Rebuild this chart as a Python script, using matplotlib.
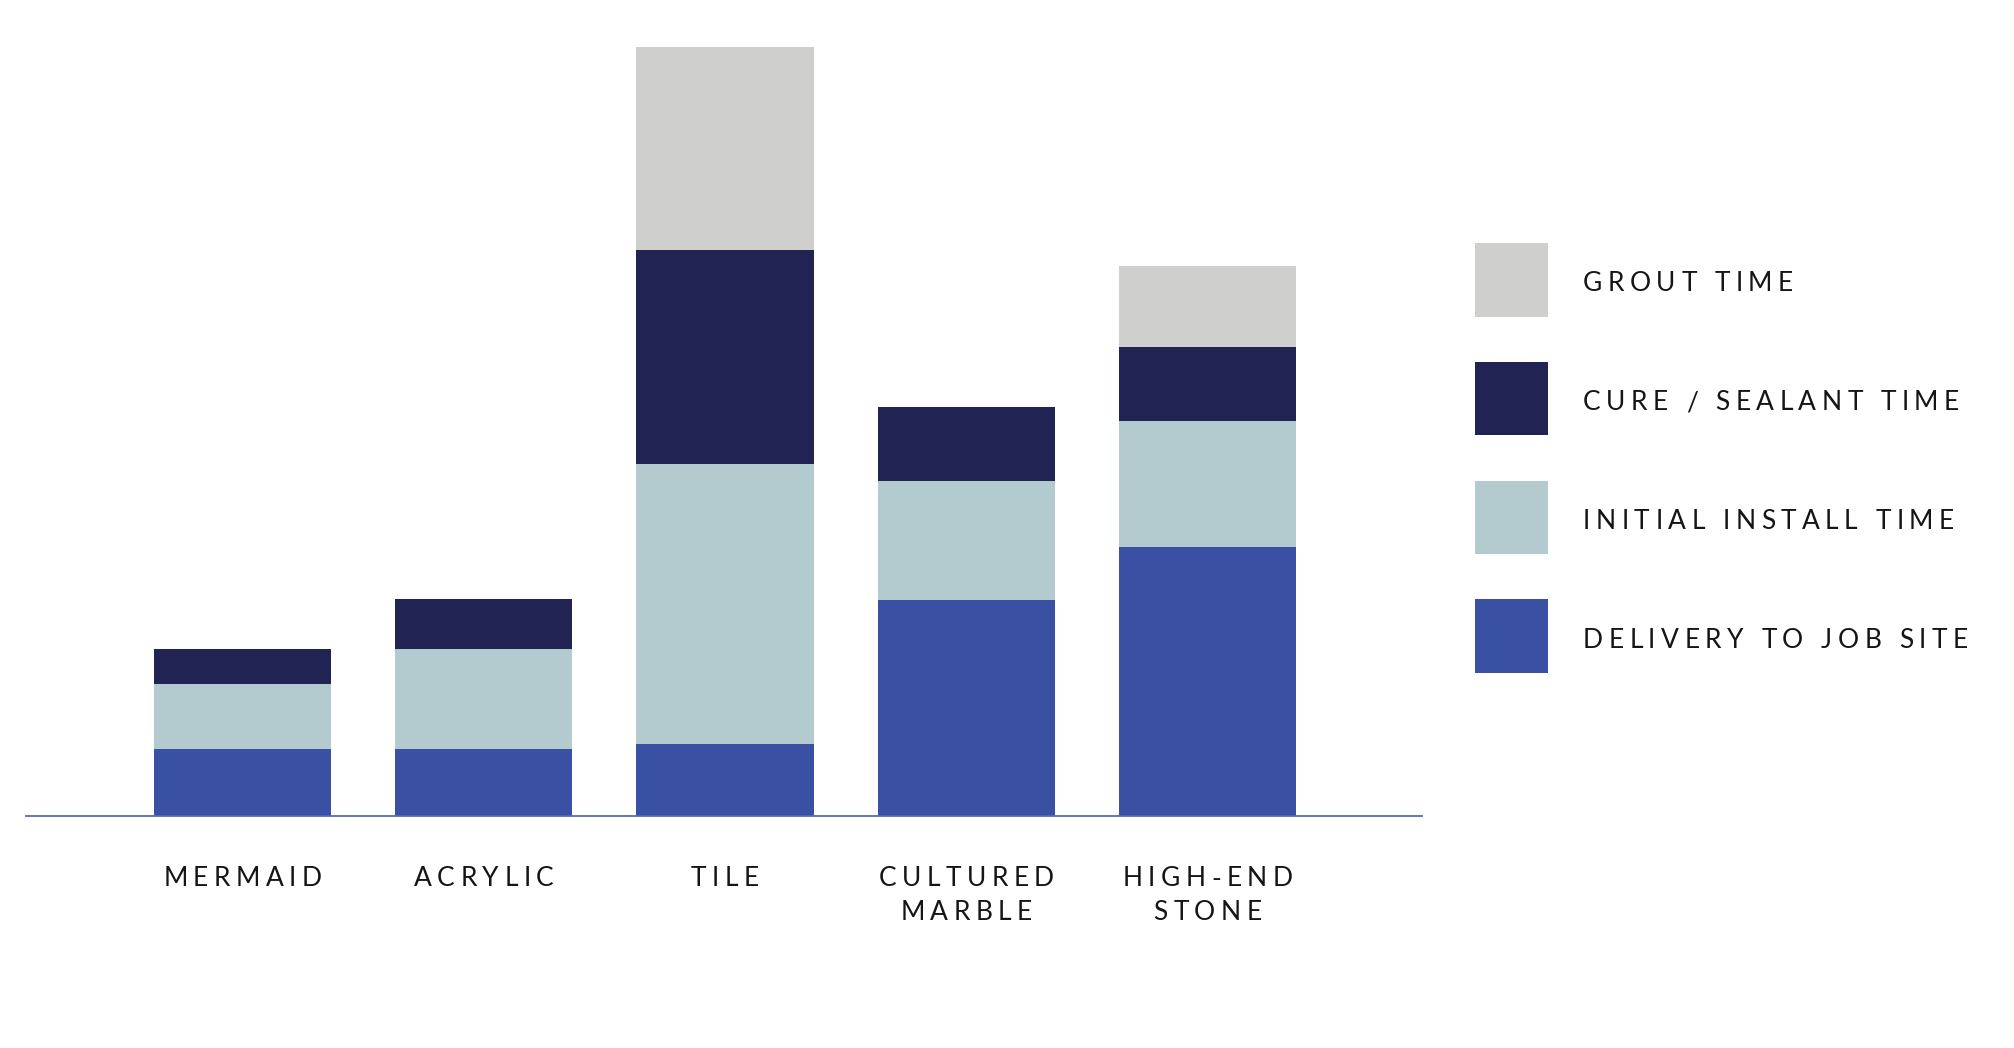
import numpy as np
import matplotlib.pyplot as plt
from matplotlib.patches import Rectangle

# Categories (one list entry per text line)
categories = [["MERMAID"], ["ACRYLIC"], ["TILE"], ["CULTURED", "MARBLE"], ["HIGH-END", "STONE"]]
series = ["DELIVERY TO JOB SITE", "INITIAL INSTALL TIME", "CURE / SEALANT TIME", "GROUT TIME"]

# Stacked values (relative time units)
delivery = [1.98, 1.98, 2.14, 6.44, 8.01]
install = [1.94, 3.00, 8.36, 3.56, 3.76]
cure = [1.06, 1.50, 6.37, 2.19, 2.22]
grout = [0.0, 0.0, 6.08, 0.0, 2.41]

colors = ["#3a50a3", "#b3cbcf", "#212453", "#cfcfcd"]

W, H = 2014, 1048
FONT = ["Lato", "DejaVu Sans"]
SIZE = 19
TRACK = 5.5  # letter spacing in px
TXT = "#151515"

fig = plt.figure(figsize=(W / 100, H / 100), dpi=100)
ax = fig.add_axes([26 / W, (H - 815.6) / H, (1422 - 26) / W, 815.6 / H])

x = np.arange(len(categories))
bottom = np.zeros(len(x))
for vals, c in zip([delivery, install, cure, grout], colors):
    ax.bar(x, vals, 0.734, bottom=bottom, color=c, linewidth=0)
    bottom += np.array(vals)

ax.set_xlim(-0.897, 4.889)
ax.set_ylim(0, 815.6 / 33.5)
for s in ["top", "right", "left"]:
    ax.spines[s].set_visible(False)
ax.spines["bottom"].set_color("#5a68b8")
ax.spines["bottom"].set_linewidth(1.3)
ax.set_xticks([])
ax.set_yticks([])

# letter-spaced text helper (pixel coords, origin top-left)
renderer = fig.canvas.get_renderer()


def text_width(s):
    t = fig.text(0, 0, s, fontsize=SIZE, family=FONT)
    w = t.get_window_extent(renderer).width
    t.remove()
    return w


base = text_width("II")
em = SIZE * 100 / 72


def tracked(px, py, s, ha="left"):
    ws = [text_width("I" + ch + "I") - base for ch in s]
    total = sum(ws) + TRACK * (len(s) - 1)
    x0 = px - total / 2 if ha == "center" else px
    yb = py + 0.36 * em
    for ch, w in zip(s, ws):
        if ch != " ":
            fig.text(x0 / W, 1 - yb / H, ch, fontsize=SIZE, family=FONT,
                     ha="left", va="baseline", color=TXT)
        x0 += w + TRACK


# category labels
for i, lines in enumerate(categories):
    cx = ax.transData.transform((i, 0))[0]
    for j, line in enumerate(lines):
        tracked(cx, 877 + j * 33.6, line, ha="center")

# legend (top to bottom: grout, cure, install, delivery)
sq = 73.5
for k, idx in enumerate([3, 2, 1, 0]):
    top = 243 + k * 118.8
    fig.patches.append(Rectangle((1474.5 / W, 1 - (top + sq) / H), sq / W, sq / H,
                                 transform=fig.transFigure, color=colors[idx], linewidth=0))
    tracked(1583, top + sq / 2 + 2, series[idx])

fig.savefig("out.png", dpi=100)
